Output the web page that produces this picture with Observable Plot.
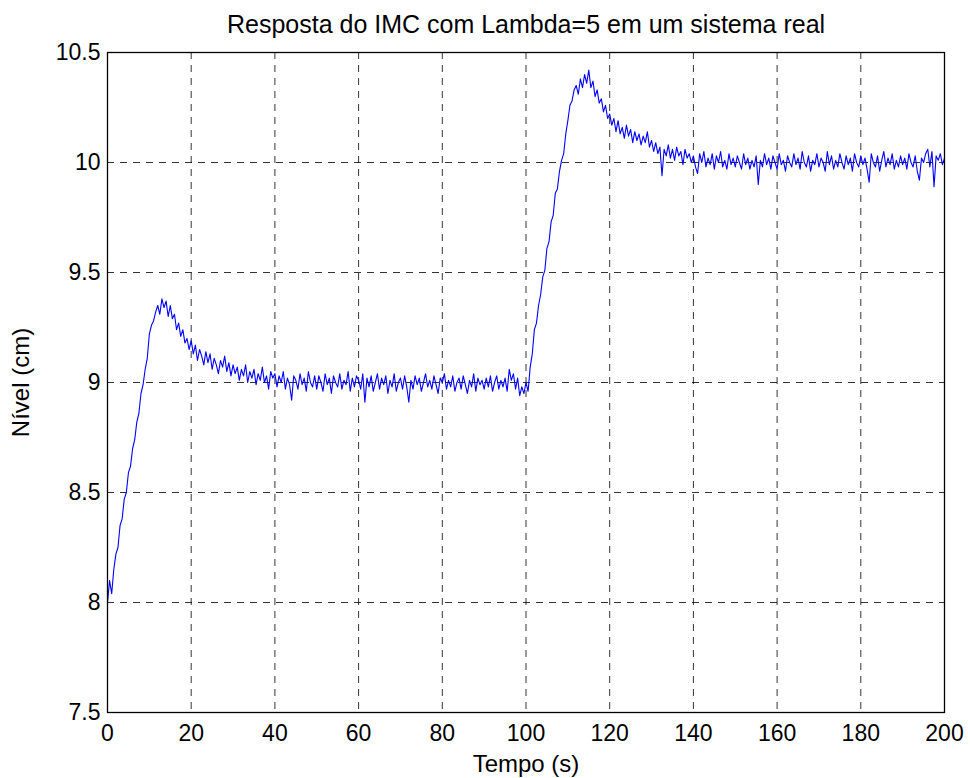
<!DOCTYPE html>
<html>
<head>
<meta charset="utf-8">
<script src="https://cdn.jsdelivr.net/npm/d3@7"></script>
<script src="https://cdn.jsdelivr.net/npm/@observablehq/plot@0.6"></script>
<style>
  html, body { margin: 0; padding: 0; background: #fff; }
  #chart svg { display: block; }
</style>
</head>
<body>
<div id="chart"></div>
<script>
const title = "Resposta do IMC com Lambda=5 em um sistema real";
const xLabel = "Tempo (s)";
const yLabel = "Nível (cm)";
const xTicks = [0, 20, 40, 60, 80, 100, 120, 140, 160, 180, 200];
const yTicks = [7.5, 8, 8.5, 9, 9.5, 10, 10.5];
const sampleTime = 0.5; // s between samples
// Nivel (cm), one sample every 0.5 s from t = 0 to t = 200 s
const nivel = [
  8.00, 8.10, 8.04, 8.15, 8.22, 8.25, 8.35, 8.38, 8.47, 8.50, 8.59, 8.62, 8.70, 8.74, 8.82, 8.86, 8.95, 8.99, 9.06, 9.11,
  9.22, 9.26, 9.28, 9.32, 9.35, 9.31, 9.38, 9.34, 9.37, 9.30, 9.35, 9.29, 9.31, 9.24, 9.27, 9.21, 9.24, 9.18, 9.20, 9.15,
  9.19, 9.13, 9.17, 9.10, 9.15, 9.12, 9.08, 9.14, 9.09, 9.13, 9.06, 9.11, 9.08, 9.04, 9.10, 9.07, 9.12, 9.05, 9.09, 9.03,
  9.08, 9.04, 9.07, 9.01, 9.06, 9.03, 9.08, 9.00, 9.05, 9.02, 9.06, 8.99, 9.04, 9.01, 9.07, 9.00, 9.03, 8.97, 9.05, 9.02,
  9.04, 8.98, 9.03, 9.00, 9.05, 8.97, 9.02, 8.99, 8.92, 9.03, 9.01, 8.97, 9.04, 8.99, 9.02, 8.96, 9.05, 9.00, 8.98, 9.03,
  8.97, 9.03, 9.00, 8.96, 9.04, 8.99, 9.02, 8.95, 9.03, 9.00, 8.98, 9.04, 8.97, 9.01, 8.99, 9.05, 8.96, 9.02, 8.98, 9.03,
  9.01, 8.97, 9.04, 8.91, 9.02, 8.98, 9.03, 8.96, 9.00, 9.04, 8.97, 9.02, 8.99, 9.03, 8.95, 9.01, 8.98, 9.04, 8.96, 9.00,
  9.02, 8.97, 9.03, 8.98, 8.91, 9.01, 8.97, 9.03, 8.99, 9.02, 8.96, 9.00, 9.04, 8.98, 9.01, 8.97, 9.03, 8.99, 8.95, 9.02,
  9.00, 9.04, 8.97, 9.01, 8.98, 9.03, 8.96, 9.00, 9.02, 8.97, 9.03, 8.99, 8.95, 9.01, 8.98, 9.04, 8.96, 9.02, 8.99, 9.01,
  8.97, 9.02, 8.98, 9.03, 8.96, 9.00, 9.03, 8.97, 9.01, 8.98, 9.02, 8.96, 9.06, 9.01, 9.04, 8.97, 9.02, 8.94, 8.98, 8.95,
  9.00, 8.96, 9.07, 9.13, 9.24, 9.27, 9.35, 9.40, 9.48, 9.51, 9.61, 9.64, 9.73, 9.76, 9.86, 9.88, 9.96, 10.01, 10.04, 10.13,
  10.19, 10.26, 10.28, 10.33, 10.35, 10.31, 10.38, 10.34, 10.40, 10.36, 10.42, 10.34, 10.37, 10.30, 10.33, 10.27, 10.29, 10.23, 10.26, 10.20,
  10.22, 10.17, 10.20, 10.14, 10.19, 10.13, 10.16, 10.11, 10.17, 10.12, 10.15, 10.09, 10.14, 10.10, 10.13, 10.08, 10.12, 10.09, 10.14, 10.07,
  10.10, 10.05, 10.09, 10.04, 10.07, 9.94, 10.06, 10.03, 10.08, 10.02, 10.06, 10.01, 10.07, 10.03, 10.05, 9.99, 10.06, 10.02, 10.04, 10.00,
  10.03, 9.98, 9.95, 10.04, 10.00, 10.05, 9.98, 10.02, 9.99, 10.04, 9.97, 10.03, 10.00, 10.05, 9.98, 10.01, 9.97, 10.04, 9.99, 10.02,
  9.98, 10.03, 10.00, 9.97, 10.04, 9.99, 10.02, 9.97, 10.01, 9.98, 10.03, 9.90, 10.01, 9.98, 10.04, 9.99, 10.02, 9.97, 10.03, 10.00,
  9.97, 10.04, 9.99, 10.01, 9.96, 10.03, 10.00, 9.98, 10.04, 9.99, 10.02, 9.97, 10.05, 10.00, 9.98, 10.03, 9.96, 10.01, 9.99, 10.04,
  9.98, 10.02, 10.00, 9.96, 10.05, 9.99, 10.03, 9.97, 10.01, 9.98, 10.04, 10.00, 9.97, 10.03, 9.99, 10.02, 9.96, 10.04, 10.00, 9.98,
  10.03, 9.99, 10.02, 9.97, 9.91, 10.04, 10.00, 9.98, 10.03, 9.96, 10.01, 10.05, 9.98, 10.02, 9.99, 10.04, 9.97, 10.01, 9.98, 10.03,
  9.99, 10.02, 9.97, 10.04, 10.00, 9.98, 10.03, 9.96, 9.92, 10.02, 10.00, 10.04, 10.06, 9.98, 10.05, 9.89, 10.03, 10.01, 10.04, 9.99,
  10.02
];

const data = nivel.map((v, i) => ({t: i * sampleTime, v}));
const font = "Arial, 'Liberation Sans', Helvetica, sans-serif";

const chart = Plot.plot({
  width: 970,
  height: 778,
  marginLeft: 107,
  marginRight: 26,
  marginTop: 52,
  marginBottom: 66,
  style: {fontFamily: font, fontSize: "22px", color: "#000", background: "#fff"},
  x: {domain: [0, 200], ticks: xTicks},
  y: {domain: [7.5, 10.5], ticks: yTicks},
  marks: [
    Plot.gridX(xTicks, {stroke: "#000", strokeOpacity: 1, strokeWidth: 0.8, strokeDasharray: "7,6"}),
    Plot.gridY(yTicks, {stroke: "#000", strokeOpacity: 1, strokeWidth: 0.8, strokeDasharray: "7,6"}),
    Plot.axisX(xTicks, {anchor: "bottom", tickSize: 0, tickPadding: 12, label: null, fontSize: 23, tickFormat: d => String(d)}),
    Plot.axisY(yTicks, {anchor: "left", tickSize: 0, tickPadding: 7, label: null, fontSize: 23, tickFormat: d => String(d)}),
    Plot.line(data, {x: "t", y: "v", stroke: "#0000ff", strokeWidth: 1.1}),
    Plot.frame({stroke: "#000", strokeWidth: 1.3}),
    Plot.text([title], {frameAnchor: "top", lineAnchor: "middle", dy: -28, fontSize: 25, fill: "#000"}),
    Plot.text([xLabel], {frameAnchor: "bottom", dy: 59, fontSize: 24, fill: "#000"}),
    Plot.text([yLabel], {frameAnchor: "left", textAnchor: "middle", rotate: -90, dx: -86, fontSize: 24, fill: "#000"})
  ]
});
document.getElementById("chart").appendChild(chart);
</script>
</body>
</html>
